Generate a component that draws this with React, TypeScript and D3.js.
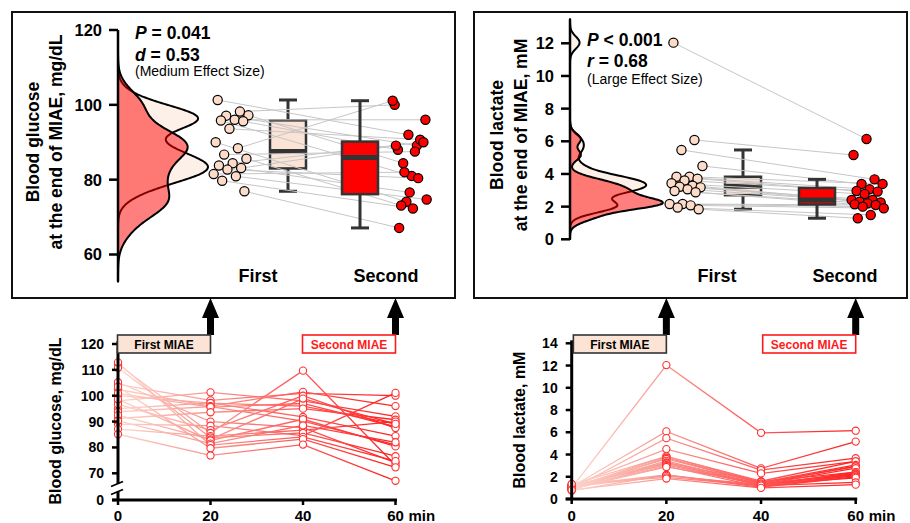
import React, { useEffect, useRef } from 'react';
import * as d3 from 'd3';

const groups = ['First', 'Second'];
const minutes = [0, 20, 40, 60];
const sessionEnds = [20, 60];
const sessionLabels = ['First MIAE', 'Second MIAE'];

// blood glucose, mg/dL, one entry per participant (20 min = end of first MIAE, 60 min = end of second)
const glucose0 = [98.0, 104.4, 100.0, 95.0, 102.4, 93.8, 100.9, 91.2, 105.2, 89.0, 96.7, 112.1, 87.1, 110.8, 92.5, 98.6, 90.3, 112.9, 103.5, 85.1];
const glucose20 = [101.3, 98.2, 97.1, 97.2, 96.0, 95.8, 95.6, 93.6, 90.0, 88.4, 86.7, 85.6, 84.4, 83.8, 83.1, 82.7, 81.5, 80.9, 79.7, 76.9];
const glucose40 = [98.0, 100.9, 96.0, 91.8, 101.5, 90.2, 97.0, 95.0, 87.7, 84.6, 100.0, 109.7, 86.7, 85.6, 98.9, 90.9, 88.5, 84.1, 83.2, 81.1];
const glucose60 = [92.0, 100.0, 89.1, 84.4, 96.0, 81.0, 88.0, 90.7, 74.1, 101.1, 87.5, 73.1, 90.0, 76.6, 89.1, 80.4, 82.0, 74.7, 72.3, 67.1];

// blood lactate, mM
const lactate0 = [1.0, 1.1, 0.9, 1.2, 1.0, 1.3, 0.8, 1.1, 0.95, 1.15, 1.05, 0.85, 1.25, 1.0, 0.9, 1.2, 0.75, 1.1, 1.35, 0.8];
const lactate20 = [12.04, 6.08, 5.47, 4.49, 3.83, 3.83, 3.71, 3.6, 3.43, 3.28, 3.22, 3.18, 3.06, 2.96, 2.88, 2.16, 2.16, 2.08, 1.95, 1.84];
const lactate40 = [5.95, 2.75, 2.6, 2.3, 1.6, 1.5, 1.4, 1.45, 1.3, 1.55, 1.2, 1.35, 1.25, 1.1, 1.4, 1.15, 1.05, 1.3, 1.2, 1.0];
const lactate60 = [6.14, 5.16, 3.67, 3.39, 3.39, 3.06, 2.96, 2.92, 2.77, 2.41, 2.41, 2.3, 2.26, 2.2, 2.14, 2.1, 2.0, 1.9, 1.49, 1.29];

const glucoseEndTicks = [60, 80, 100, 120];
const lactateEndTicks = [0, 2, 4, 6, 8, 10, 12];
const glucoseTimeTicks = [0, 70, 80, 90, 100, 110, 120];
const lactateTimeTicks = [0, 2, 4, 6, 8, 10, 12, 14];

const glucoseStats = [['P', ' = 0.041'], ['d', ' = 0.53']];
const glucoseEffect = '(Medium Effect Size)';
const lactateStats = [['P', ' < 0.001'], ['r', ' = 0.68']];
const lactateEffect = '(Large Effect Size)';

const glucoseEndLabel = ['Blood glucose', 'at the end of MIAE, mg/dL'];
const lactateEndLabel = ['Blood lactate', 'at the end of MIAE, mM'];

const FONT = "'Liberation Sans', Arial, Helvetica, sans-serif";
const INK = '#333333';
const PEACH = '#fbe3d5';
const RED = '#ff0000';

function kde(values: number[], bw: number, lo: number, hi: number, steps = 200): [number, number][] {
  const out: [number, number][] = [];
  const norm = values.length * bw * Math.sqrt(2 * Math.PI);
  for (let k = 0; k <= steps; k++) {
    const v = lo + ((hi - lo) * k) / steps;
    let s = 0;
    for (const x of values) {
      const u = (v - x) / bw;
      s += Math.exp(-0.5 * u * u);
    }
    out.push([v, s / norm]);
  }
  return out;
}

// Silverman's rule (R's bw.nrd0)
function bandwidth(values: number[]) {
  const s = [...values].sort(d3.ascending);
  const sd = d3.deviation(s) as number;
  const iqr = (d3.quantileSorted(s, 0.75) as number) - (d3.quantileSorted(s, 0.25) as number);
  return 0.9 * Math.min(sd, iqr / 1.34) * Math.pow(s.length, -0.2);
}

function boxStats(values: number[]) {
  const s = [...values].sort(d3.ascending);
  const q1 = d3.quantileSorted(s, 0.25) as number;
  const med = d3.quantileSorted(s, 0.5) as number;
  const q3 = d3.quantileSorted(s, 0.75) as number;
  const iqr = q3 - q1;
  const lo = d3.min(s.filter(v => v >= q1 - 1.5 * iqr)) as number;
  const hi = d3.max(s.filter(v => v <= q3 + 1.5 * iqr)) as number;
  return { q1, med, q3, lo, hi };
}

const jitter = (i: number) => ((i * 0.618034 + 0.13) % 1) - 0.5;

function drawBox(g: any, y: any, cx: number, values: number[], fill: string) {
  const b = boxStats(values);
  const w = 36;
  g.append('line').attr('x1', cx).attr('x2', cx).attr('y1', y(b.lo)).attr('y2', y(b.hi))
    .attr('stroke', INK).attr('stroke-width', 3);
  [b.lo, b.hi].forEach(v => {
    g.append('line').attr('x1', cx - 9).attr('x2', cx + 9).attr('y1', y(v)).attr('y2', y(v))
      .attr('stroke', INK).attr('stroke-width', 3);
  });
  g.append('rect').attr('x', cx - w / 2).attr('y', y(b.q3)).attr('width', w).attr('height', y(b.q1) - y(b.q3))
    .attr('fill', fill).attr('stroke', INK).attr('stroke-width', 2.5);
  g.append('line').attr('x1', cx - w / 2).attr('x2', cx + w / 2).attr('y1', y(b.med)).attr('y2', y(b.med))
    .attr('stroke', INK).attr('stroke-width', 5);
}

function drawRaincloud(svg: any, cfg: any) {
  const { frame, axisX, y, ticks, data, cats, boxDx, ptDx, jw, densW, adjust } = cfg;
  const g = svg.append('g');

  g.append('rect').attr('x', frame[0]).attr('y', frame[1])
    .attr('width', frame[2] - frame[0]).attr('height', frame[3] - frame[1])
    .attr('fill', 'none').attr('stroke', '#111').attr('stroke-width', 2);

  // half violins along the y axis
  const cut = 3.8;
  const dens = data.map((vals: number[]) => {
    const bw = bandwidth(vals) * adjust;
    const lo = Math.max(0, (d3.min(vals) as number) - cut * bw);
    const hi = (d3.max(vals) as number) + cut * bw;
    return kde(vals, bw, lo, hi);
  });
  const maxD = d3.max(dens.flat(), (d: any) => d[1]) as number;
  const xd = d3.scaleLinear().domain([0, maxD]).range([axisX, axisX + densW]);
  const area = d3.area<[number, number]>()
    .y(d => y(d[0])).x0(axisX).x1(d => xd(d[1])).curve(d3.curveBasis);
  g.append('path').datum(dens[0]).attr('d', area)
    .attr('fill', '#fdf0e8').attr('stroke', '#000').attr('stroke-width', 2);
  g.append('path').datum(dens[1]).attr('d', area)
    .attr('fill', RED).attr('fill-opacity', 0.5).attr('stroke', '#000').attr('stroke-width', 2);

  // spine and ticks
  const ext = d3.extent([...ticks, ...dens.flatMap((d: any) => [d[0][0], d[d.length - 1][0]])]) as [number, number];
  g.append('line').attr('x1', axisX).attr('x2', axisX).attr('y1', y(ext[0])).attr('y2', y(ext[1]))
    .attr('stroke', '#000').attr('stroke-width', 2.5);
  ticks.forEach((t: number) => {
    g.append('line').attr('x1', axisX - 9).attr('x2', axisX).attr('y1', y(t)).attr('y2', y(t))
      .attr('stroke', '#000').attr('stroke-width', 2.5);
    g.append('text').attr('x', axisX - 16).attr('y', y(t)).attr('dy', '0.36em')
      .attr('text-anchor', 'end').attr('font-size', 16.5).attr('font-weight', 'bold').text(t);
  });

  const px = (gi: number, j: number) => cats[gi] + ptDx[gi] + jitter(j + gi * 7) * jw;

  drawBox(g, y, cats[0] + boxDx[0], data[0], PEACH);

  data[0].forEach((v: number, j: number) => {
    g.append('line').attr('x1', px(0, j)).attr('y1', y(v)).attr('x2', px(1, j)).attr('y2', y(data[1][j]))
      .attr('stroke', '#c6c6c6').attr('stroke-width', 1);
  });

  drawBox(g, y, cats[1] + boxDx[1], data[1], RED);

  data.forEach((vals: number[], gi: number) => {
    g.selectAll(null).data(vals).join('circle')
      .attr('cx', (_: number, j: number) => px(gi, j)).attr('cy', (v: number) => y(v)).attr('r', 4.6)
      .attr('fill', gi === 0 ? '#fcdcc9' : RED).attr('stroke', '#000').attr('stroke-width', 1.2);
  });

  groups.forEach((name, gi) => {
    g.append('text').attr('x', cats[gi]).attr('y', 282).attr('text-anchor', 'middle')
      .attr('font-size', 18).attr('font-weight', 'bold').text(name);
  });

  cfg.label.forEach((line: string, k: number) => {
    g.append('text').attr('transform', `translate(${cfg.labelX[k]},${cfg.labelY}) rotate(-90)`)
      .attr('text-anchor', 'middle').attr('font-size', 17.5).attr('font-weight', 'bold').text(line);
  });

  cfg.stats.forEach((s: string[], k: number) => {
    const t = g.append('text').attr('x', cfg.statsX).attr('y', cfg.statsY[k])
      .attr('font-size', 17.5).attr('font-weight', 'bold');
    t.append('tspan').attr('font-style', 'italic').text(s[0]);
    t.append('tspan').text(s[1]);
  });
  g.append('text').attr('x', cfg.statsX).attr('y', cfg.statsY[2]).attr('font-size', 14).text(cfg.effect);
}

function drawTimeCourse(svg: any, cfg: any) {
  const { x, y, yBottom, series, ticks, broken, gradId } = cfg;
  const g = svg.append('g');
  const axisX = x(0);

  const grad = svg.append('defs').append('linearGradient').attr('id', gradId)
    .attr('gradientUnits', 'userSpaceOnUse')
    .attr('x1', x(0)).attr('x2', x(60)).attr('y1', 0).attr('y2', 0);
  [[0, '#fcd6cc'], [0.33, '#f8958e'], [0.67, '#ff5555'], [1, '#ff1e1e']].forEach(([o, c]) => {
    grad.append('stop').attr('offset', o).attr('stop-color', c);
  });

  const line = d3.line<[number, number]>().x(d => x(d[0])).y(d => y(d[1]));
  series.forEach((s: [number, number][]) => {
    g.append('path').attr('d', line(s)).attr('fill', 'none')
      .attr('stroke', `url(#${gradId})`).attr('stroke-width', 1.3);
  });
  series.forEach((s: [number, number][]) => {
    g.selectAll(null).data(s).join('circle')
      .attr('cx', (d: [number, number]) => x(d[0])).attr('cy', (d: [number, number]) => y(d[1])).attr('r', 3.6)
      .attr('fill', '#fff').attr('stroke', '#ff3030').attr('stroke-width', 1.1);
  });

  // y axis
  const ty = (t: number) => (t === 0 ? yBottom : y(t));
  const yTop = y(d3.max(ticks) as number) - 3;
  if (broken) {
    g.append('line').attr('x1', axisX).attr('x2', axisX).attr('y1', yTop).attr('y2', yBottom - 16)
      .attr('stroke', '#000').attr('stroke-width', 3);
    g.append('line').attr('x1', axisX).attr('x2', axisX).attr('y1', yBottom - 8).attr('y2', yBottom)
      .attr('stroke', '#000').attr('stroke-width', 3);
    [yBottom - 16, yBottom - 8].forEach(yy => {
      g.append('line').attr('x1', axisX - 7).attr('x2', axisX + 5).attr('y1', yy + 2.5).attr('y2', yy - 2.5)
        .attr('stroke', '#000').attr('stroke-width', 1.8);
    });
  } else {
    g.append('line').attr('x1', axisX).attr('x2', axisX).attr('y1', yTop).attr('y2', yBottom)
      .attr('stroke', '#000').attr('stroke-width', 3);
  }
  ticks.forEach((t: number) => {
    g.append('line').attr('x1', axisX - 6).attr('x2', axisX).attr('y1', ty(t)).attr('y2', ty(t))
      .attr('stroke', '#000').attr('stroke-width', 2.5);
    g.append('text').attr('x', axisX - 14).attr('y', ty(t)).attr('dy', '0.36em')
      .attr('text-anchor', 'end').attr('font-size', 14).attr('font-weight', 'bold').text(t);
  });

  // x axis
  g.append('line').attr('x1', axisX - 6).attr('x2', x(60) + 1.5).attr('y1', yBottom).attr('y2', yBottom)
    .attr('stroke', '#000').attr('stroke-width', 3);
  minutes.forEach(m => {
    g.append('line').attr('x1', x(m)).attr('x2', x(m)).attr('y1', yBottom).attr('y2', yBottom + 5)
      .attr('stroke', '#000').attr('stroke-width', 2.5);
    g.append('text').attr('x', x(m)).attr('y', 521).attr('text-anchor', 'middle')
      .attr('font-size', 15).attr('font-weight', 'bold').text(m);
  });
  g.append('text').attr('x', x(60) + 13).attr('y', 521)
    .attr('font-size', 15).attr('font-weight', 'bold').text('min');

  g.append('text').attr('transform', `translate(${cfg.labelX},${cfg.labelY}) rotate(-90)`)
    .attr('text-anchor', 'middle').attr('font-size', 16).attr('font-weight', 'bold').text(cfg.label);

  // session boxes with arrows pointing up to the panel above
  sessionEnds.forEach((m, k) => {
    const ax = x(m);
    g.append('path')
      .attr('d', `M${ax},298 L${ax + 8.5},318 L${ax + 3.5},318 L${ax + 3.5},335 L${ax - 3.5},335 L${ax - 3.5},318 L${ax - 8.5},318 Z`)
      .attr('fill', '#000');
    g.append('rect').attr('x', ax - 93).attr('y', 335).attr('width', 93).attr('height', 18)
      .attr('fill', k === 0 ? PEACH : '#fff').attr('stroke', k === 0 ? INK : '#ff1a1a').attr('stroke-width', 1.6);
    g.append('text').attr('x', ax - 46.5).attr('y', 348.5).attr('text-anchor', 'middle')
      .attr('font-size', 12).attr('font-weight', 'bold').attr('fill', k === 0 ? '#000' : '#ff1a1a')
      .text(sessionLabels[k]);
  });
}

function draw(node: SVGSVGElement) {
  const svg = d3.select(node);
  svg.selectAll('*').remove();
  svg.append('rect').attr('width', 910).attr('height', 523).attr('fill', '#fff');

  drawRaincloud(svg, {
    frame: [12, 12, 455, 298], axisX: 118,
    y: d3.scaleLinear().domain([60, 120]).range([254.5, 30]),
    ticks: glucoseEndTicks, data: [glucose20, glucose60],
    cats: [258, 386], boxDx: [30, -26], ptDx: [-27, 24], jw: 36, densW: 90, adjust: 0.8,
    label: glucoseEndLabel, labelX: [38.5, 61.5], labelY: 142,
    stats: glucoseStats, effect: glucoseEffect, statsX: 135, statsY: [38.5, 60.5, 76]
  });

  drawRaincloud(svg, {
    frame: [474, 12, 907, 298], axisX: 570,
    y: d3.scaleLinear().domain([0, 12]).range([239.3, 43.3]),
    ticks: lactateEndTicks, data: [lactate20, lactate60],
    cats: [717, 845], boxDx: [26, -28], ptDx: [-31, 23], jw: 34, densW: 93, adjust: 0.9,
    label: lactateEndLabel, labelX: [503, 526.5], labelY: 135,
    stats: lactateStats, effect: lactateEffect, statsX: 587, statsY: [45.5, 67, 84]
  });

  const glucoseSeries = glucose20.map((_, i) =>
    [glucose0, glucose20, glucose40, glucose60].map((arr, k) => [minutes[k], arr[i]]));
  drawTimeCourse(svg, {
    x: d3.scaleLinear().domain([0, 60]).range([118, 395.5]),
    y: d3.scaleLinear().domain([70, 120]).range([473.3, 344]),
    yBottom: 500, broken: true, series: glucoseSeries, ticks: glucoseTimeTicks, gradId: 'gradGlucose',
    label: 'Blood glucose, mg/dL', labelX: 61, labelY: 421
  });

  const lactateSeries = lactate20.map((_, i) =>
    [lactate0, lactate20, lactate40, lactate60].map((arr, k) => [minutes[k], arr[i]]));
  drawTimeCourse(svg, {
    x: d3.scaleLinear().domain([0, 60]).range([571.7, 855.7]),
    y: d3.scaleLinear().domain([0, 14]).range([499, 343.3]),
    yBottom: 499, broken: false, series: lactateSeries, ticks: lactateTimeTicks, gradId: 'gradLactate',
    label: 'Blood lactate, mM', labelX: 525, labelY: 420
  });
}

export default function App() {
  const ref = useRef<SVGSVGElement>(null);
  useEffect(() => {
    if (ref.current) draw(ref.current);
  }, []);
  return (
    <svg ref={ref} width={910} height={523} fontFamily={FONT}
      style={{ position: 'absolute', left: 0, top: 0, display: 'block' }} />
  );
}
